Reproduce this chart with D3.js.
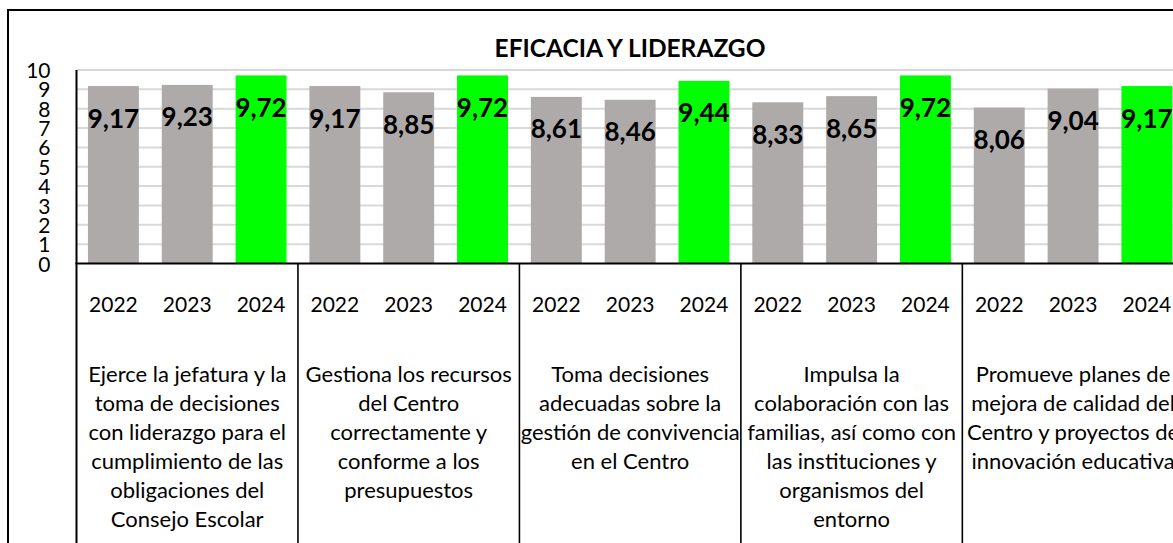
<!DOCTYPE html>
<html>
<head>
<meta charset="utf-8">
<script src="https://cdn.jsdelivr.net/npm/d3@7"></script>
<style>
  html, body { margin: 0; padding: 0; background: #fff; overflow: hidden; }
  svg { display: block; }
  text { font-family: Lato, "Open Sans", sans-serif; fill: #000; }
</style>
</head>
<body>
<svg id="chart" width="1173" height="543"></svg>
<script>
const title = "EFICACIA Y LIDERAZGO";
const years = ["2022", "2023", "2024"];
const groupLabels = [
  ["Ejerce la jefatura y la", "toma de decisiones", "con liderazgo para el", "cumplimiento de las", "obligaciones del", "Consejo Escolar"],
  ["Gestiona los recursos", "del Centro", "correctamente y", "conforme a los", "presupuestos"],
  ["Toma decisiones", "adecuadas sobre la", "gestión de convivencia", "en el Centro"],
  ["Impulsa la", "colaboración con las", "familias, así como con", "las instituciones y", "organismos del", "entorno"],
  ["Promueve planes de", "mejora de calidad del", "Centro y proyectos de", "innovación educativa"]
];
const values2022 = [9.17, 9.17, 8.61, 8.33, 8.06];
const values2023 = [9.23, 8.85, 8.46, 8.65, 9.04];
const values2024 = [9.72, 9.72, 9.44, 9.72, 9.17];
const yTicks = [0, 1, 2, 3, 4, 5, 6, 7, 8, 9, 10];
const colorByYear = { "2022": "#AEAAAA", "2023": "#AEAAAA", "2024": "#00FF00" };

const series = [values2022, values2023, values2024];
const data = [];
groupLabels.forEach((g, gi) => {
  years.forEach((yr, yi) => {
    data.push({ key: gi + "-" + yr, group: gi, year: yr, value: series[yi][gi] });
  });
});

const svg = d3.select("#chart");
const plotLeft = 76.5, step = 73.82;
const plotRight = plotLeft + step * data.length;
const yTop = 70, yBase = 263.5;

const x = d3.scaleBand()
  .domain(data.map(d => d.key))
  .range([plotLeft, plotRight])
  .paddingInner(0.31)
  .paddingOuter(0.155);
const y = d3.scaleLinear().domain([0, 10]).range([yBase, yTop]);

// outer border (extends beyond visible area)
svg.append("rect")
  .attr("x", 8).attr("y", 10)
  .attr("width", 1300).attr("height", 700)
  .attr("fill", "none").attr("stroke", "#000").attr("stroke-width", 2);

// title
svg.append("text")
  .attr("x", 630).attr("y", 47)
  .attr("text-anchor", "middle").attr("dominant-baseline", "central")
  .style("font-weight", "bold").style("font-size", "24.5px")
  .text(title);

// gridlines
svg.append("g").selectAll("line").data(yTicks.filter(t => t > 0)).join("line")
  .attr("x1", plotLeft).attr("x2", plotRight)
  .attr("y1", d => y(d)).attr("y2", d => y(d))
  .attr("stroke", "#D9D9D9").attr("stroke-width", 2);

// y axis via d3.axisLeft
const yAxis = svg.append("g")
  .attr("transform", `translate(${plotLeft},0)`)
  .call(d3.axisLeft(y).tickValues(yTicks).tickSize(0).tickPadding(26).tickFormat(d3.format("d")));
yAxis.select(".domain").remove();
yAxis.selectAll("text")
  .style("font-size", "21px").style("font-family", "Lato, sans-serif")
  .attr("dy", "0.36em");

// bars
svg.append("g").selectAll("rect").data(data).join("rect")
  .attr("x", d => x(d.key))
  .attr("width", x.bandwidth())
  .attr("y", d => y(d.value))
  .attr("height", d => yBase - y(d.value))
  .attr("fill", d => colorByYear[d.year]);

// value labels
svg.append("g").selectAll("text").data(data).join("text")
  .attr("x", d => x(d.key) + x.bandwidth() / 2)
  .attr("y", d => y(d.value) + 31.5)
  .attr("text-anchor", "middle").attr("dominant-baseline", "central")
  .style("font-weight", "bold").style("font-size", "26px")
  .text(d => d.value.toFixed(2).replace(".", ","));

// axis lines
svg.append("line")
  .attr("x1", plotLeft).attr("x2", plotLeft)
  .attr("y1", yTop).attr("y2", 560)
  .attr("stroke", "#000").attr("stroke-width", 2);
svg.append("line")
  .attr("x1", plotLeft - 1).attr("x2", plotRight)
  .attr("y1", yBase).attr("y2", yBase)
  .attr("stroke", "#000").attr("stroke-width", 2);

// group separators
const groupEdge = gi => x(gi + "-2022") - x.step() * x.paddingOuter();
svg.append("g").selectAll("line").data(d3.range(1, groupLabels.length + 1)).join("line")
  .attr("x1", d => d < groupLabels.length ? groupEdge(d) : plotRight)
  .attr("x2", d => d < groupLabels.length ? groupEdge(d) : plotRight)
  .attr("y1", yBase).attr("y2", 560)
  .attr("stroke", "#000").attr("stroke-width", 1.6);

// year labels
svg.append("g").selectAll("text").data(data).join("text")
  .attr("x", d => x(d.key) + x.bandwidth() / 2)
  .attr("y", 303)
  .attr("text-anchor", "middle").attr("dominant-baseline", "central")
  .style("font-size", "21px")
  .text(d => d.year);

// category labels
const catG = svg.append("g");
groupLabels.forEach((lines, gi) => {
  const cx = (x(gi + "-2022") + x(gi + "-2024") + x.bandwidth()) / 2;
  catG.append("g").selectAll("text").data(lines).join("text")
    .attr("x", cx)
    .attr("y", (d, i) => 373.5 + i * 29)
    .attr("text-anchor", "middle").attr("dominant-baseline", "central")
    .style("font-size", "22px")
    .text(d => d);
});
</script>
</body>
</html>
